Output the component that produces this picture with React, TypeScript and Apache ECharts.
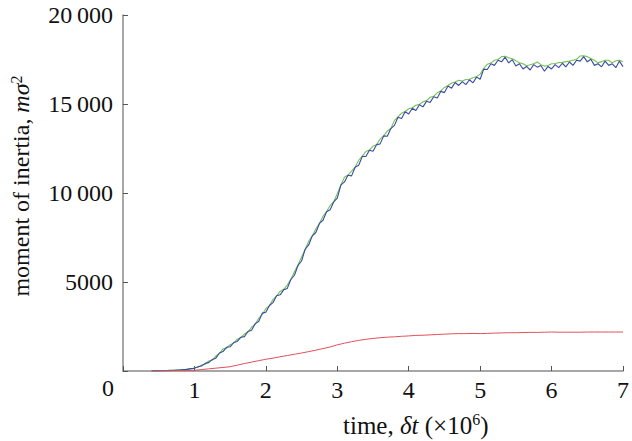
import React, { useEffect, useRef } from "react";
import * as echarts from "echarts";

// sampling grid of the two noisy curves (time in units of 10^6 δt)
const T0 = 0.4;
const DT = 0.05;

const blueValues = [
  0, 8, 6, 18, 14, 35, 32, 55, 52, 85, 90, 135, 150, 240, 280, 430, 470, 650, 720, 1010,
  1090, 1330, 1360, 1600, 1660, 1900, 1930, 2220, 2290, 2660, 2780, 3250, 3300, 3680, 3840, 4230,
  4280, 4560, 4640, 5140, 5380, 5930, 6180, 6840, 7080, 7590, 7780, 8290, 8470, 8950, 9060, 9500,
  9710, 10440, 10620, 11000, 10960, 11450, 11560, 12060, 12050, 12400, 12350, 12710, 12760, 13210,
  13190, 13620, 13800, 14260, 14190, 14560, 14440, 14760, 14630, 14960, 14840, 15160, 15090, 15410,
  15340, 15710, 15640, 16010, 15890, 16210, 16040, 16260, 16090, 16360, 16190, 16510, 16390, 16960,
  16940, 17260, 17170, 17460, 17370, 17630, 17310, 17490, 17140, 17260, 16970, 17110, 16910, 17210,
  17070, 17160, 16840, 17110, 16970, 17210, 17040, 17290, 17090, 17360, 17170, 17460, 17410, 17660,
  17370, 17510, 17170, 17260, 17090, 17410, 17170, 17260, 17040, 17410, 17100,
];

const greenValues = [
  0, 4, 12, 10, 26, 24, 48, 46, 70, 72, 110, 118, 185, 210, 340, 380, 560, 600, 840, 980,
  1240, 1300, 1480, 1570, 1790, 1880, 2080, 2200, 2460, 2620, 2960, 3180, 3500, 3670, 4010, 4220,
  4470, 4590, 4830, 5150, 5580, 5950, 6400, 6830, 7290, 7590, 7990, 8290, 8690, 8960, 9300, 9510,
  9960, 10450, 10880, 11010, 11230, 11460, 11840, 12070, 12330, 12410, 12630, 12720, 13030, 13220,
  13480, 13620, 14080, 14280, 14480, 14580, 14730, 14790, 14930, 14980, 15130, 15190, 15380, 15440,
  15630, 15740, 15930, 16040, 16180, 16240, 16330, 16290, 16380, 16390, 16480, 16540, 16680, 17000,
  17230, 17300, 17460, 17500, 17660, 17680, 17600, 17540, 17430, 17310, 17260, 17150, 17200, 17260,
  17360, 17210, 17130, 17160, 17260, 17260, 17330, 17340, 17380, 17410, 17460, 17510, 17700, 17710,
  17660, 17560, 17460, 17310, 17380, 17460, 17460, 17310, 17430, 17460, 17380,
];

const redTimes = [
  0.4, 0.5, 0.6, 0.7, 0.8, 0.9, 1.0, 1.1, 1.2, 1.3, 1.4, 1.5, 1.6, 1.7, 1.8, 1.9, 2.0, 2.1, 2.2,
  2.3, 2.4, 2.5, 2.6, 2.7, 2.8, 2.9, 3.0, 3.1, 3.2, 3.3, 3.4, 3.5, 3.6, 3.7, 3.8, 3.9, 4.0, 4.1,
  4.2, 4.3, 4.4, 4.5, 4.6, 4.7, 4.8, 4.9, 5.0, 5.1, 5.2, 5.3, 5.4, 5.5, 5.6, 5.7, 5.8, 5.9, 6.0,
  6.1, 6.2, 6.3, 6.4, 6.5, 6.6, 6.7, 6.8, 6.9, 7.0,
];
const redValues = [
  0, 5, 10, 15, 20, 25, 40, 80, 120, 160, 200, 240, 330, 420, 500, 580, 660, 720, 800,
  870, 940, 1010, 1090, 1170, 1260, 1350, 1470, 1560, 1650, 1720, 1780, 1830, 1870, 1900, 1920, 1950, 1970, 2000,
  2010, 2030, 2050, 2070, 2090, 2100, 2100, 2110, 2100, 2110, 2130, 2140, 2150, 2150, 2160, 2170, 2170, 2180, 2190,
  2180, 2180, 2180, 2180, 2190, 2190, 2190, 2190, 2190, 2190,
];

const xTicks = [0, 1, 2, 3, 4, 5, 6, 7];
const yTickLabels: Record<number, string> = {
  0: "",
  5000: "5000",
  10000: "10\u2009000",
  15000: "15\u2009000",
  20000: "20\u2009000",
};

const FONT = "'Liberation Serif', 'Times New Roman', serif";

export default function App() {
  const ref = useRef<HTMLDivElement>(null);
  useEffect(() => {
    document.body.style.margin = "0";
    if (!ref.current) return;
    const chart = echarts.init(ref.current, null, { renderer: "svg" });
    const blue = blueValues.map((v, i) => [+(T0 + i * DT).toFixed(2), v]);
    const green = greenValues.map((v, i) => [+(T0 + i * DT).toFixed(2), v]);
    const red = redValues.map((v, i) => [redTimes[i], v]);
    const axisColor = "#8a8a8a";
    chart.setOption({
      animation: false,
      backgroundColor: "#ffffff",
      grid: { left: 123, right: 8, top: 15, bottom: 70, containLabel: false },
      xAxis: {
        type: "value",
        min: xTicks[0],
        max: xTicks[xTicks.length - 1],
        interval: 1,
        splitLine: { show: false },
        axisLine: { lineStyle: { color: axisColor, width: 1.5 } },
        axisTick: { inside: true, length: 5, lineStyle: { color: "#555", width: 1 } },
        axisLabel: {
          color: "#111",
          fontFamily: FONT,
          fontSize: 24,
          margin: 7,
          formatter: (v: number) => (v === 0 ? "" : String(v)),
        },
      },
      yAxis: {
        type: "value",
        min: 0,
        max: 20000,
        interval: 5000,
        splitLine: { show: false },
        axisLine: { show: true, lineStyle: { color: axisColor, width: 1.5 } },
        axisTick: { show: true, inside: true, length: 5, lineStyle: { color: "#555", width: 1 } },
        axisLabel: {
          color: "#111",
          fontFamily: FONT,
          fontSize: 24,
          margin: 10,
          formatter: (v: number) => yTickLabels[v] ?? String(v),
        },
      },
      series: [
        {
          type: "line",
          data: green,
          showSymbol: false,
          lineStyle: { color: "#74c352", width: 1.1 },
          z: 2,
        },
        {
          type: "line",
          data: blue,
          showSymbol: false,
          lineStyle: { color: "#3a4aa6", width: 1.1 },
          z: 3,
        },
        {
          type: "line",
          data: red,
          showSymbol: false,
          lineStyle: { color: "#e0505c", width: 1 },
          z: 4,
        },
      ],
      graphic: [
        {
          type: "text",
          left: 102,
          top: 376,
          style: { text: "0", font: `24px ${FONT}`, fill: "#111" },
        },
        {
          type: "text",
          x: 343,
          y: 425,
          style: {
            text: "time, {i|δt} (×10{s|6})",
            fontFamily: "Liberation Serif",
            fontSize: 25,
            fill: "#111",
            verticalAlign: "middle",
            rich: {
              i: { fontFamily: "Liberation Serif", fontSize: 25, fontStyle: "italic", fill: "#111" },
              s: { fontFamily: "Liberation Serif", fontSize: 16, fill: "#111", padding: [0, 0, 11, 0] },
            },
          },
        },
        {
          type: "text",
          x: 21,
          y: 186,
          rotation: Math.PI / 2,
          style: {
            text: "moment of inertia, {i|mσ}{s|2}",
            fontFamily: "Liberation Serif",
            fontSize: 24,
            fill: "#111",
            align: "center",
            verticalAlign: "middle",
            rich: {
              i: { fontFamily: "Liberation Serif", fontSize: 24, fontStyle: "italic", fill: "#111" },
              s: { fontFamily: "Liberation Serif", fontSize: 16, fill: "#111", padding: [0, 0, 10, 0] },
            },
          },
        },
      ],
    });
    return () => chart.dispose();
  }, []);
  return <div ref={ref} style={{ width: 632, height: 441 }} />;
}
